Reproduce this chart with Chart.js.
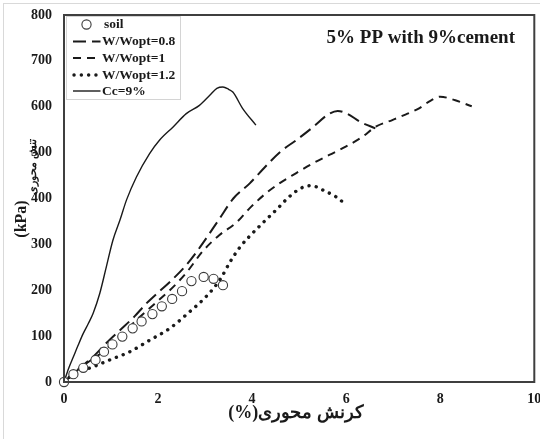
<!DOCTYPE html>
<html><head><meta charset="utf-8">
<script src="https://cdn.jsdelivr.net/npm/chart.js@4.4.0/dist/chart.umd.min.js"></script>
<style>html,body{margin:0;padding:0;background:#fff}#wrap{width:540px;height:439px}</style>
</head><body><div id="wrap"><canvas id="c" width="540" height="439"></canvas></div>
<script>
// ---- data ----
const xTickValues = [0, 2, 4, 6, 8, 10];
const yTickValues = [0, 100, 200, 300, 400, 500, 600, 700, 800];
const seriesNames = ['soil', 'W/Wopt=0.8', 'W/Wopt=1', 'W/Wopt=1.2', 'Cc=9%'];

const soilStrain = [0, 0.2, 0.41, 0.67, 0.85, 1.03, 1.24, 1.46, 1.65, 1.88, 2.08, 2.30, 2.51, 2.71, 2.97, 3.18, 3.38];
const soilStress = [0, 17, 31, 48, 66, 82, 99, 117, 132, 148, 165, 181, 198, 220, 229, 225, 211];

const w08Strain = [0, 0.3, 0.62, 0.9, 1.19, 1.5, 1.75, 2.0, 2.25, 2.6, 2.9, 3.3, 3.6, 3.95, 4.25, 4.6, 4.95, 5.3, 5.6, 5.82, 6.02, 6.3, 6.62];
const w08Stress = [0, 28, 55, 85, 113, 143, 171, 195, 218, 255, 295, 355, 400, 433, 466, 502, 528, 556, 582, 591, 585, 567, 553];

const w1Strain = [0, 0.4, 0.83, 1.2, 1.54, 1.9, 2.25, 2.6, 2.95, 3.3, 3.66, 3.94, 4.29, 4.58, 4.93, 5.28, 5.64, 5.99, 6.34, 6.62, 6.98, 7.26, 7.54, 7.79, 8.0, 8.32, 8.67];
const w1Stress = [0, 35, 66, 100, 135, 168, 200, 238, 285, 320, 347, 378, 411, 433, 455, 476, 495, 513, 534, 556, 571, 583, 596, 613, 622, 614, 601];

const w12Strain = [0, 0.2, 0.62, 0.97, 1.4, 1.82, 2.25, 2.67, 3.02, 3.31, 3.55, 3.75, 3.94, 4.22, 4.54, 4.79, 5.07, 5.25, 5.57, 5.78, 5.99];
const w12Stress = [0, 17, 33, 48, 66, 91, 117, 153, 186, 222, 265, 295, 317, 346, 378, 404, 424, 428, 415, 404, 387];

const ccStrain = [0, 0.1, 0.2, 0.3, 0.41, 0.52, 0.62, 0.76, 0.9, 1.04, 1.19, 1.33, 1.54, 1.82, 2.03, 2.32, 2.6, 2.88, 3.1, 3.25, 3.38, 3.5, 3.59, 3.8, 4.08];
const ccStress = [0, 30, 55, 80, 106, 128, 150, 193, 251, 309, 353, 397, 447, 498, 527, 556, 585, 603, 625, 640, 643, 638, 632, 596, 560];

const chartTitle = '5% PP with 9%cement';
const xTitle = '\u202Bکرنش محوری(%)\u202C';
const yTitleUnit = '(kPa)';
const yTitleText = 'تنش محوری';

// ---- helpers ----
const pts = (xs, ys) => xs.map((x, i) => ({x: x, y: ys[i]}));
const SERIF = "'Liberation Serif', 'Times New Roman', 'DejaVu Serif', serif";
const INK = '#1a1a1a';

const datasets = [
  {label: seriesNames[0], data: pts(soilStrain, soilStress), showLine: false,
   pointStyle: 'circle', pointRadius: 4.6, pointBorderWidth: 1.1, pointBorderColor: '#3a3a3a',
   pointBackgroundColor: '#ffffff', borderColor: '#3a3a3a', backgroundColor: '#fff', clip: false, kind: 'marker'},
  {label: seriesNames[1], data: pts(w08Strain, w08Stress), showLine: true, pointRadius: 0,
   borderColor: INK, borderWidth: 2, borderDash: [13, 6], cubicInterpolationMode: 'monotone', kind: 'line'},
  {label: seriesNames[2], data: pts(w1Strain, w1Stress), showLine: true, pointRadius: 0,
   borderColor: INK, borderWidth: 2, borderDash: [8, 6], cubicInterpolationMode: 'monotone', kind: 'line'},
  {label: seriesNames[3], data: pts(w12Strain, w12Stress), showLine: true, pointRadius: 0,
   borderColor: INK, borderWidth: 3.4, borderDash: [0.1, 7.2], borderCapStyle: 'round', cubicInterpolationMode: 'monotone', kind: 'line'},
  {label: seriesNames[4], data: pts(ccStrain, ccStress), showLine: true, pointRadius: 0,
   borderColor: INK, borderWidth: 1.4, cubicInterpolationMode: 'monotone', kind: 'line'}
];

const decor = {
  id: 'decor',
  beforeDraw(chart) {
    const ctx = chart.ctx;
    ctx.save();
    ctx.fillStyle = '#fff';
    ctx.fillRect(0, 0, chart.width, chart.height);
    ctx.strokeStyle = '#d9d9d9';
    ctx.lineWidth = 1;
    ctx.strokeRect(3.5, 3.5, chart.width + 10, chart.height + 10);
    ctx.restore();
  },
  afterDatasetsDraw(chart) {
    const ctx = chart.ctx, a = chart.chartArea;
    ctx.save();
    // plot frame
    ctx.strokeStyle = '#3f3f3f';
    ctx.lineWidth = 2;
    ctx.strokeRect(a.left, a.top, a.right - a.left, a.bottom - a.top);

    // legend box
    const lx = 66, ly = 16, lw = 114, lh = 83;
    ctx.fillStyle = '#fff';
    ctx.fillRect(lx, ly, lw, lh);
    ctx.strokeStyle = '#d4d4d4';
    ctx.lineWidth = 1;
    ctx.strokeRect(lx + 0.5, ly + 0.5, lw, lh);
    const rowY = [24.5, 41.5, 58, 75, 91];
    ctx.font = 'bold 13.5px ' + SERIF;
    ctx.textBaseline = 'middle';
    ctx.textAlign = 'left';
    chart.data.datasets.forEach((ds, i) => {
      const y = rowY[i];
      if (ds.kind === 'marker') {
        ctx.beginPath();
        ctx.setLineDash([]);
        ctx.arc(86.5, y, ds.pointRadius, 0, Math.PI * 2);
        ctx.fillStyle = ds.pointBackgroundColor;
        ctx.fill();
        ctx.lineWidth = ds.pointBorderWidth;
        ctx.strokeStyle = ds.pointBorderColor;
        ctx.stroke();
      } else {
        ctx.beginPath();
        ctx.setLineDash(ds.borderDash || []);
        ctx.lineCap = ds.borderCapStyle || 'butt';
        ctx.lineWidth = ds.borderWidth;
        ctx.strokeStyle = ds.borderColor;
        const x0 = ds.borderCapStyle === 'round' ? 74 : 73;
        ctx.moveTo(x0, y);
        ctx.lineTo(100.5, y);
        ctx.stroke();
        ctx.setLineDash([]);
        ctx.lineCap = 'butt';
      }
      ctx.fillStyle = INK;
      ctx.fillText(ds.label, ds.kind === 'marker' ? 104 : 102, y + 0.5);
    });

    // chart title
    ctx.font = 'bold 19px ' + SERIF;
    ctx.textAlign = 'right';
    ctx.textBaseline = 'middle';
    ctx.fillStyle = INK;
    ctx.fillText(chartTitle, 515, 38);

    // x title
    ctx.font = 'bold 18px ' + SERIF;
    ctx.textAlign = 'center';
    ctx.fillText(xTitle, 296, 413);

    // y title (rotated)
    ctx.save();
    ctx.translate(22, 219);
    ctx.rotate(-Math.PI / 2);
    ctx.font = 'bold 16px ' + SERIF;
    ctx.textAlign = 'center';
    ctx.textBaseline = 'middle';
    ctx.fillText(yTitleUnit, 0, 0);
    ctx.restore();
    ctx.save();
    ctx.translate(33, 167);
    ctx.rotate(-Math.PI / 2);
    ctx.font = 'bold 11px ' + SERIF;
    ctx.textAlign = 'center';
    ctx.textBaseline = 'middle';
    ctx.fillText(yTitleText, 0, 0);
    ctx.restore();

    ctx.restore();
  }
};

new Chart(document.getElementById('c'), {
  type: 'scatter',
  data: {datasets: datasets},
  options: {
    responsive: false,
    devicePixelRatio: 1,
    animation: false,
    layout: {padding: {left: 0, right: 4, top: 15, bottom: 0}},
    plugins: {legend: {display: false}, tooltip: {enabled: false}},
    scales: {
      x: {
        type: 'linear', min: 0, max: 10,
        afterBuildTicks: s => { s.ticks = xTickValues.map(v => ({value: v})); },
        ticks: {color: INK, padding: 9, font: {family: SERIF, size: 14, weight: 'bold'}, maxRotation: 0},
        grid: {display: false, drawTicks: false},
        border: {display: false},
        afterFit: s => { s.height = 57; s.paddingRight = 0; s.paddingLeft = 0; }
      },
      y: {
        type: 'linear', min: 0, max: 800,
        afterBuildTicks: s => { s.ticks = yTickValues.map(v => ({value: v})); },
        ticks: {color: INK, padding: 12, font: {family: SERIF, size: 14, weight: 'bold'}},
        grid: {display: false, drawTicks: false},
        border: {display: false},
        afterFit: s => { s.width = 64; s.paddingTop = 0; s.paddingBottom = 0; }
      }
    }
  },
  plugins: [decor]
});
</script></body></html>
